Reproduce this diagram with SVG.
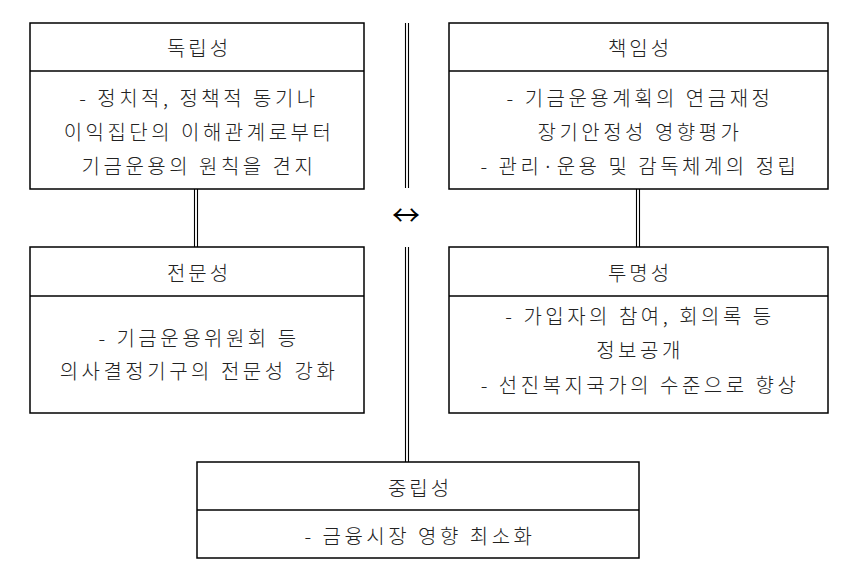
<svg xmlns="http://www.w3.org/2000/svg" width="841" height="578" viewBox="0 0 841 578">
<style>
.box{fill:#fff;stroke:#000;stroke-width:1.5}
.div{stroke:#000;stroke-width:1.5}
.dl{stroke:#000;stroke-width:1.1;fill:none}
text{font-family:"Noto Sans CJK KR","Noto Sans",sans-serif;font-weight:300;fill:#222;text-anchor:middle}
.t{font-size:20px;letter-spacing:3px}
.b{font-size:20px;letter-spacing:3.5px}
</style>
<rect width="841" height="578" fill="#fff"/>
<g id="connectors">
<path class="dl" d="M405.5 23V188M408.5 23V188M405.5 247V462M408.5 247V462"/>
<path class="dl" d="M194.5 189V247M197.5 189V247M636.5 189V247M639.5 189V247"/>
</g>
<g id="arrow">
<text x="406" y="226" style="font-size:28px;font-weight:400;fill:#000">↔</text>
</g>
<g id="n1">
<rect class="box" x="30" y="23" width="334" height="166"/>
<line class="div" x1="30" y1="71" x2="364" y2="71"/>
<text class="t" x="199" y="56">독립성</text>
<text class="b" x="199" y="106">- 정치적, 정책적 동기나</text>
<text class="b" x="199" y="140">이익집단의 이해관계로부터</text>
<text class="b" x="199" y="174">기금운용의 원칙을 견지</text>
</g>
<g id="n2">
<rect class="box" x="449" y="23" width="379" height="166"/>
<line class="div" x1="449" y1="71" x2="828" y2="71"/>
<text class="t" x="640" y="56">책임성</text>
<text class="b" x="640" y="106">- 기금운용계획의 연금재정</text>
<text class="b" x="640" y="140">장기안정성 영향평가</text>
<text class="b" x="640" y="174">- 관리·운용 및 감독체계의 정립</text>
</g>
<g id="n3">
<rect class="box" x="30" y="247" width="334" height="166"/>
<line class="div" x1="30" y1="296" x2="364" y2="296"/>
<text class="t" x="199" y="281">전문성</text>
<text class="b" x="199" y="346">- 기금운용위원회 등</text>
<text class="b" x="199" y="379">의사결정기구의 전문성 강화</text>
</g>
<g id="n4">
<rect class="box" x="449" y="247" width="379" height="166"/>
<line class="div" x1="449" y1="296" x2="828" y2="296"/>
<text class="t" x="640" y="281">투명성</text>
<text class="b" x="640" y="324">- 가입자의 참여, 회의록 등</text>
<text class="b" x="640" y="358">정보공개</text>
<text class="b" x="640" y="393">- 선진복지국가의 수준으로 향상</text>
</g>
<g id="n5">
<rect class="box" x="197" y="462" width="442" height="96"/>
<line class="div" x1="197" y1="510" x2="639" y2="510"/>
<text class="t" x="420" y="496">중립성</text>
<text class="b" x="420" y="544">- 금융시장 영향 최소화</text>
</g>
</svg>
